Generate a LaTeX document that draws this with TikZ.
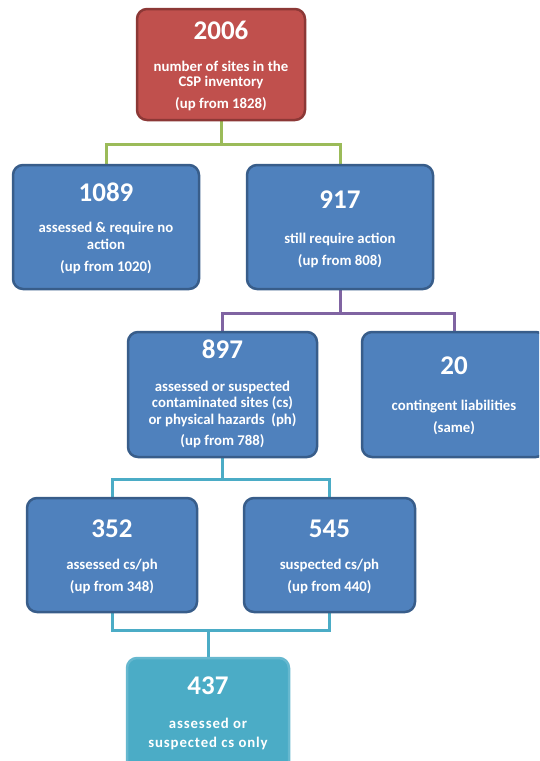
\documentclass[tikz,border=0pt]{standalone}
\usepackage{fontspec}
\setmainfont{Carlito}
\newfontfamily\spacedfont[LetterSpace=6]{Carlito}
\usetikzlibrary{backgrounds}
\definecolor{redfill}{HTML}{C0504D}
\definecolor{redline}{HTML}{8C3836}
\definecolor{bluefill}{HTML}{4F81BD}
\definecolor{blueline}{HTML}{385D8A}
\definecolor{greenline}{HTML}{9BBB59}
\definecolor{purpleline}{HTML}{8064A2}
\definecolor{cyanline}{HTML}{4BACC6}
\begin{document}
\begin{tikzpicture}[x=1pt,y=-1pt,
  box/.style={draw=blueline, fill=bluefill, line width=2.5pt, rounded corners=10pt, inner sep=0pt},
  redbox/.style={box, draw=redline, fill=redfill},
  cyanbox/.style={box, draw=cyanline!85!white, fill=cyanline},
  num/.style={text=white, font=\fontsize{27}{30}\selectfont\bfseries, inner sep=0pt, anchor=base},
  txt/.style={text=white, font=\fontsize{14.8}{16}\selectfont\bfseries, inner sep=0pt, anchor=base},
  stxt/.style={text=white, font=\fontsize{14.8}{16}\spacedfont\bfseries, inner sep=0pt, anchor=base},
  conn/.style={line width=3pt}]
\useasboundingbox (0,0) rectangle (539,761);
\clip (0,0) rectangle (539,761);

% boxes
\node[redbox, minimum width=168pt, minimum height=111pt] (red) at (221,64.5) {};
\node[box, minimum width=186pt, minimum height=124pt] (b1089) at (106,227) {};
\node[box, minimum width=186pt, minimum height=124pt] (b917) at (340,227) {};
\node[box, minimum width=189pt, minimum height=125pt] (b897) at (222.5,394.5) {};
\node[box, minimum width=184pt, minimum height=125pt] (b20) at (454,394.5) {};
\node[box, minimum width=170pt, minimum height=114pt] (b352) at (112,555) {};
\node[box, minimum width=171pt, minimum height=114pt] (b545) at (329.5,555) {};
\node[cyanbox, minimum width=162pt, minimum height=123pt] (b437) at (208,719.5) {};

% texts
\node[num] (n2006) at (221,39) {2006};
\node[txt] (t2006a) at (221,71) {number of sites in the};
\node[txt] (t2006b) at (221,86) {CSP inventory};
\node[txt] (t2006c) at (221,108) {(up from 1828)};

\node[num] (n1089) at (106,201) {1089};
\node[txt] (t1089a) at (106,232.5) {assessed \& require no};
\node[txt] (t1089b) at (106,249) {action};
\node[txt] (t1089c) at (106,271.5) {(up from 1020)};

\node[num] (n917) at (340,208) {917};
\node[txt] (t917a) at (340,243) {still require action};
\node[txt] (t917b) at (340,265) {(up from 808)};

\node[num] (n897) at (222.5,358) {897};
\node[txt] (t897a) at (222.5,391) {assessed or suspected};
\node[txt] (t897b) at (222.5,407.5) {contaminated sites (cs)};
\node[txt] (t897c) at (222.5,424) {or physical hazards\ \ (ph)};
\node[txt] (t897d) at (222.5,445) {(up from 788)};

\node[num] (n20) at (454,374) {20};
\node[txt] (t20a) at (454,410) {contingent liabilities};
\node[txt] (t20b) at (454,432) {(same)};

\node[num] (n352) at (112,537) {352};
\node[txt] (t352a) at (112,569) {assessed cs/ph};
\node[txt] (t352b) at (112,591) {(up from 348)};

\node[num] (n545) at (329.5,537) {545};
\node[txt] (t545a) at (329.5,569) {suspected cs/ph};
\node[txt] (t545b) at (329.5,591) {(up from 440)};

\node[num] (n437) at (208,694) {437};
\node[stxt] (t437a) at (208,728) {assessed or};
\node[stxt] (t437b) at (208,747) {suspected cs only};

% connectors
\begin{scope}[on background layer]
\path (red.south) ++(0,23) coordinate (gj);
\draw[conn, greenline] (red.south) -- (gj);
\draw[conn, greenline] (b1089.north) |- (gj) -| (b917.north);

\path (b917.south) ++(0,23) coordinate (pj);
\draw[conn, purpleline] (b917.south) -- (pj);
\draw[conn, purpleline] (b897.north) |- (pj) -| (b20.north);

\path (b897.south) ++(0,21) coordinate (cj);
\draw[conn, cyanline] (b897.south) -- (cj);
\draw[conn, cyanline] (b352.north) |- (cj) -| (b545.north);

\path (b437.north) ++(0,-26) coordinate (cb);
\draw[conn, cyanline] (b352.south) |- (cb) -| (b545.south);
\draw[conn, cyanline] (cb) -- (b437.north);
\end{scope}
\end{tikzpicture}
\end{document}
